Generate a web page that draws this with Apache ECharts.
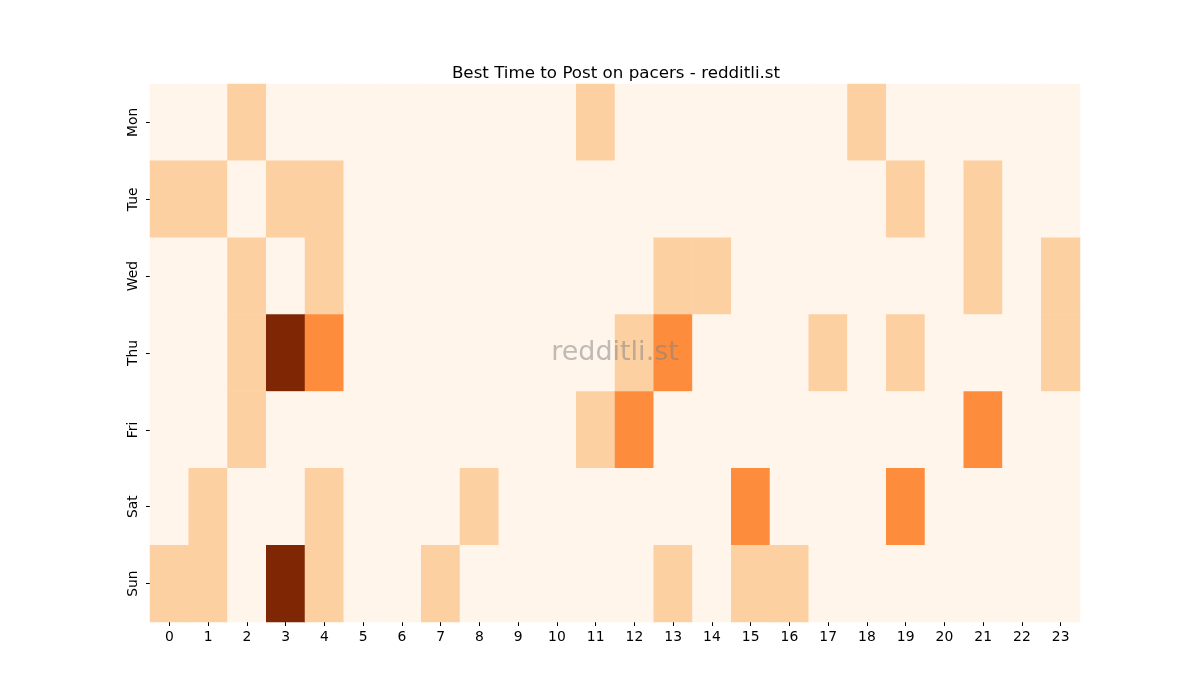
<!DOCTYPE html>
<html>
<head>
<meta charset="utf-8">
<script src="https://cdn.jsdelivr.net/npm/echarts@6/dist/echarts.min.js"></script>
<style>
  html, body { margin: 0; padding: 0; background: #fff; }
  #chart { width: 1200px; height: 700px; }
</style>
</head>
<body>
<div id="chart"></div>
<script>
var hours = ['0','1','2','3','4','5','6','7','8','9','10','11','12','13','14','15','16','17','18','19','20','21','22','23'];
var days = ['Mon','Tue','Wed','Thu','Fri','Sat','Sun'];

// posts per hour, one row per day
var mon = [0,0,1,0,0,0,0,0,0,0,0,1,0,0,0,0,0,0,1,0,0,0,0,0];
var tue = [1,1,0,1,1,0,0,0,0,0,0,0,0,0,0,0,0,0,0,1,0,1,0,0];
var wed = [0,0,1,0,1,0,0,0,0,0,0,0,0,1,1,0,0,0,0,0,0,1,0,1];
var thu = [0,0,1,3,2,0,0,0,0,0,0,0,1,2,0,0,0,1,0,1,0,0,0,1];
var fri = [0,0,1,0,0,0,0,0,0,0,0,1,2,0,0,0,0,0,0,0,0,2,0,0];
var sat = [0,1,0,0,1,0,0,0,1,0,0,0,0,0,0,2,0,0,0,2,0,0,0,0];
var sun = [1,1,0,3,1,0,0,1,0,0,0,0,0,1,0,1,1,0,0,0,0,0,0,0];
var rows = [mon, tue, wed, thu, fri, sat, sun];

var data = [];
rows.forEach(function (row, d) {
	row.forEach(function (v, h) {
		data.push([h, d, v]);
	});
});

var chart = echarts.init(document.getElementById('chart'));
var font = 'DejaVu Sans';

chart.setOption({
	animation: false,
	textStyle: { fontFamily: font },
	title: {
		text: 'Best Time to Post on pacers - redditli.st',
		left: 611,
		textAlign: 'center',
		top: 60,
		textStyle: { fontFamily: font, fontSize: 16.7, fontWeight: 'normal', color: '#000' }
	},
	grid: { left: 150, right: 120, top: 84, bottom: 78 },
	xAxis: {
		type: 'category',
		data: hours,
		axisLine: { show: false },
		axisTick: { show: true, alignWithLabel: true, length: 4, lineStyle: { color: '#000' } },
		axisLabel: { fontFamily: font, fontSize: 13.9, color: '#000', margin: 8 },
		splitLine: { show: false }
	},
	yAxis: {
		type: 'category',
		data: days,
		inverse: true,
		axisLine: { show: false },
		axisTick: { show: true, alignWithLabel: true, length: 4, lineStyle: { color: '#000' } },
		axisLabel: { fontFamily: font, fontSize: 13.9, color: '#000', rotate: 90, margin: 10 },
		splitLine: { show: false }
	},
	visualMap: {
		show: false,
		min: 0,
		max: 3,
		dimension: 2,
		inRange: { color: ['#fff5eb', '#fdd0a2', '#fd8d3c', '#7f2704'] }
	},
	series: [{
		type: 'heatmap',
		data: data,
		itemStyle: { borderWidth: 0 },
		emphasis: { disabled: true }
	}],
	graphic: [{
		type: 'text',
		x: 615,
		y: 353,
		z: 100,
		style: {
			text: 'redditli.st',
			align: 'center',
			verticalAlign: 'middle',
			fontFamily: font,
			fontSize: 27,
			fill: 'rgba(128,128,128,0.5)'
		}
	}]
});
</script>
</body>
</html>
